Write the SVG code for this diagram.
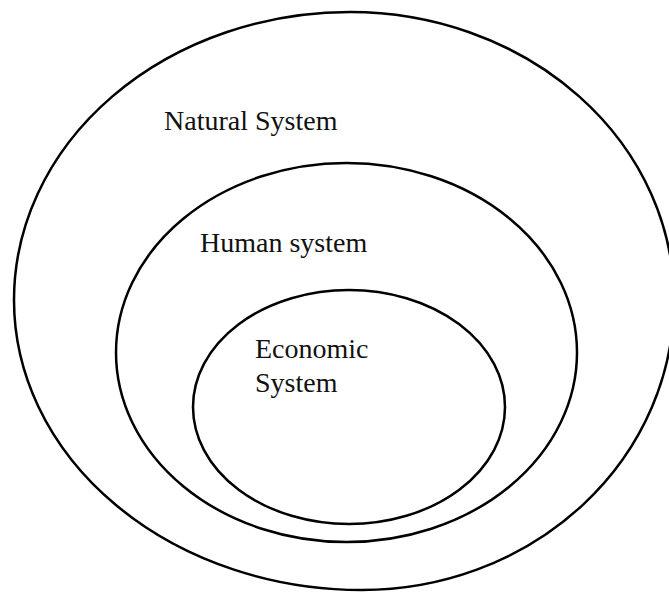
<svg xmlns="http://www.w3.org/2000/svg" width="669" height="594" viewBox="0 0 669 594">
<style>
.ring{fill:none;stroke:#000;stroke-width:2.5}
.lbl{font-family:"Liberation Serif","Times New Roman",serif;font-size:28px;fill:#111}
</style>
<rect width="669" height="594" fill="#fff"/>
<g id="natural-system">
<path class="ring" d="M 350 12 A 336 288 0 0 0 14 300 A 348 290 0 0 0 362 590 A 312 290 0 0 0 674 300 A 324 288 0 0 0 350 12 Z"/>
<text class="lbl" x="164" y="130">Natural System</text>
</g>
<g id="human-system">
<ellipse class="ring" cx="346.5" cy="352.5" rx="230.5" ry="189.5"/>
<text class="lbl" x="200" y="252">Human system</text>
</g>
<g id="economic-system">
<ellipse class="ring" cx="349" cy="407" rx="156" ry="117"/>
<text class="lbl" x="255" y="358">Economic</text>
<text class="lbl" x="255" y="392">System</text>
</g>
<g id="connectors"></g>
</svg>
